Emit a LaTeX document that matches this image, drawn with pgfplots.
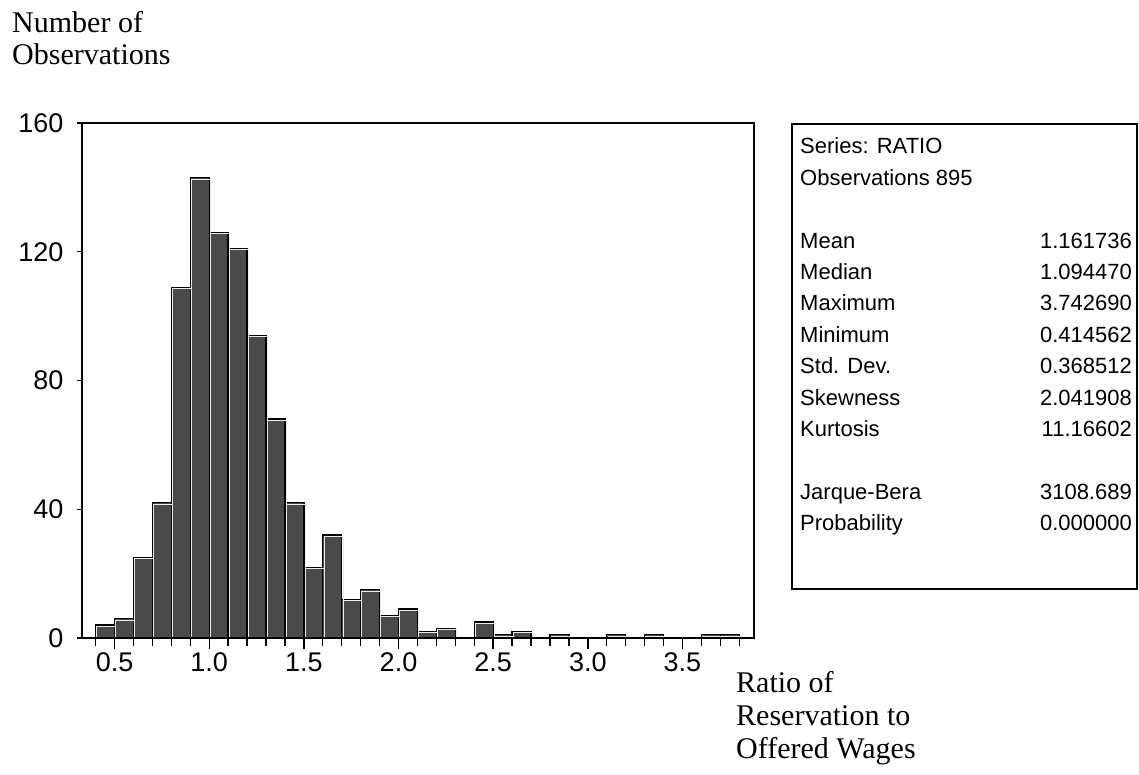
\documentclass[border=0pt]{standalone}
\usepackage{fontspec}
\setmainfont{Liberation Sans}
\newfontfamily\serif{Liberation Serif}
\usepackage{pgfplots}
\pgfplotsset{compat=1.18}
\definecolor{barfill}{RGB}{74,74,74}
\pgfplotstableread{
x y
0.4 4
0.5 6
0.6 25
0.7 42
0.8 109
0.9 143
1.0 126
1.1 121
1.2 94
1.3 68
1.4 42
1.5 22
1.6 32
1.7 12
1.8 15
1.9 7
2.0 9
2.1 2
2.2 3
2.3 0
2.4 5
2.5 1
2.6 2
2.7 0
2.8 1
2.9 0
3.0 0
3.1 1
3.2 0
3.3 1
3.4 0
3.5 0
3.6 1
3.7 1
3.8 0
}\hist
\begin{document}
\begin{tikzpicture}[x=1pt,y=1pt]
\useasboundingbox (0,0) rectangle (1139,774);
\begin{axis}[
  at={(82pt,136pt)}, anchor=south west,
  scale only axis, width=672pt, height=515pt,
  xmin=0.328, xmax=3.878, ymin=0, ymax=160,
  axis on top,
  axis line style={line width=1.4pt},
  xtick={0.5,1.0,1.5,2.0,2.5,3.0,3.5},
  minor xtick={0.4,0.6,0.7,0.8,0.9,1.1,1.2,1.3,1.4,1.6,1.7,1.8,1.9,2.1,2.2,2.3,2.4,2.6,2.7,2.8,2.9,3.1,3.2,3.3,3.4,3.6,3.7,3.8},
  ytick={0,40,80,120,160},
  xtick pos=left, ytick pos=left,
  tick align=outside,
  major tick length=11pt, minor tick length=8pt,
  ytick style={/pgfplots/major tick length=5pt},
  tick style={line width=1.4pt, black},
  /pgf/number format/assume math mode=true,
  xticklabel style={/pgf/number format/.cd, fixed, fixed zerofill, precision=1},
  yticklabel style={xshift=-4pt},
  ticklabel style={font=\fontsize{27}{30}\selectfont},
]
\addplot[ybar interval, fill=barfill, draw=black, line width=1.3pt] table[x=x,y=y] {\hist};
\addplot[ybar interval, fill=none, draw=white!85!gray, line width=0.7pt, xshift=1.2pt, yshift=-1.2pt] table[x=x,y=y] {\hist};
\end{axis}
\begin{scope}[every node/.style={inner sep=0pt}]
\node[anchor=base west, font=\serif\fontsize{30}{32}\selectfont] at (12,741) {Number of};
\node[anchor=base west, font=\serif\fontsize{30}{32}\selectfont] at (12,709) {Observations};
\node[anchor=base west, font=\serif\fontsize{30}{32}\selectfont] at (736,82) {Ratio of};
\node[anchor=base west, font=\serif\fontsize{30}{32}\selectfont] at (736,49) {Reservation to};
\node[anchor=base west, font=\serif\fontsize{30}{32}\selectfont] at (736,16) {Offered Wages};
\draw[line width=1.4pt] (792,650) rectangle (1137,185);
\def\L{31.4}
\foreach \i/\a/\b in {0/{Series: RATIO}/{},1/{Observations 895}/{},3/Mean/1.161736,4/Median/1.094470,5/Maximum/3.742690,6/Minimum/0.414562,7/{Std. Dev.}/0.368512,8/Skewness/2.041908,9/Kurtosis/11.16602,11/Jarque-Bera/3108.689,12/Probability/0.000000}{
  \node[anchor=base west, font=\fontsize{22}{24}\selectfont] at (800,{774-154-\i*\L}) {\a};
  \node[anchor=base east, font=\fontsize{22}{24}\selectfont] at (1132,{774-154-\i*\L}) {\b};
}
\end{scope}
\end{tikzpicture}
\end{document}
